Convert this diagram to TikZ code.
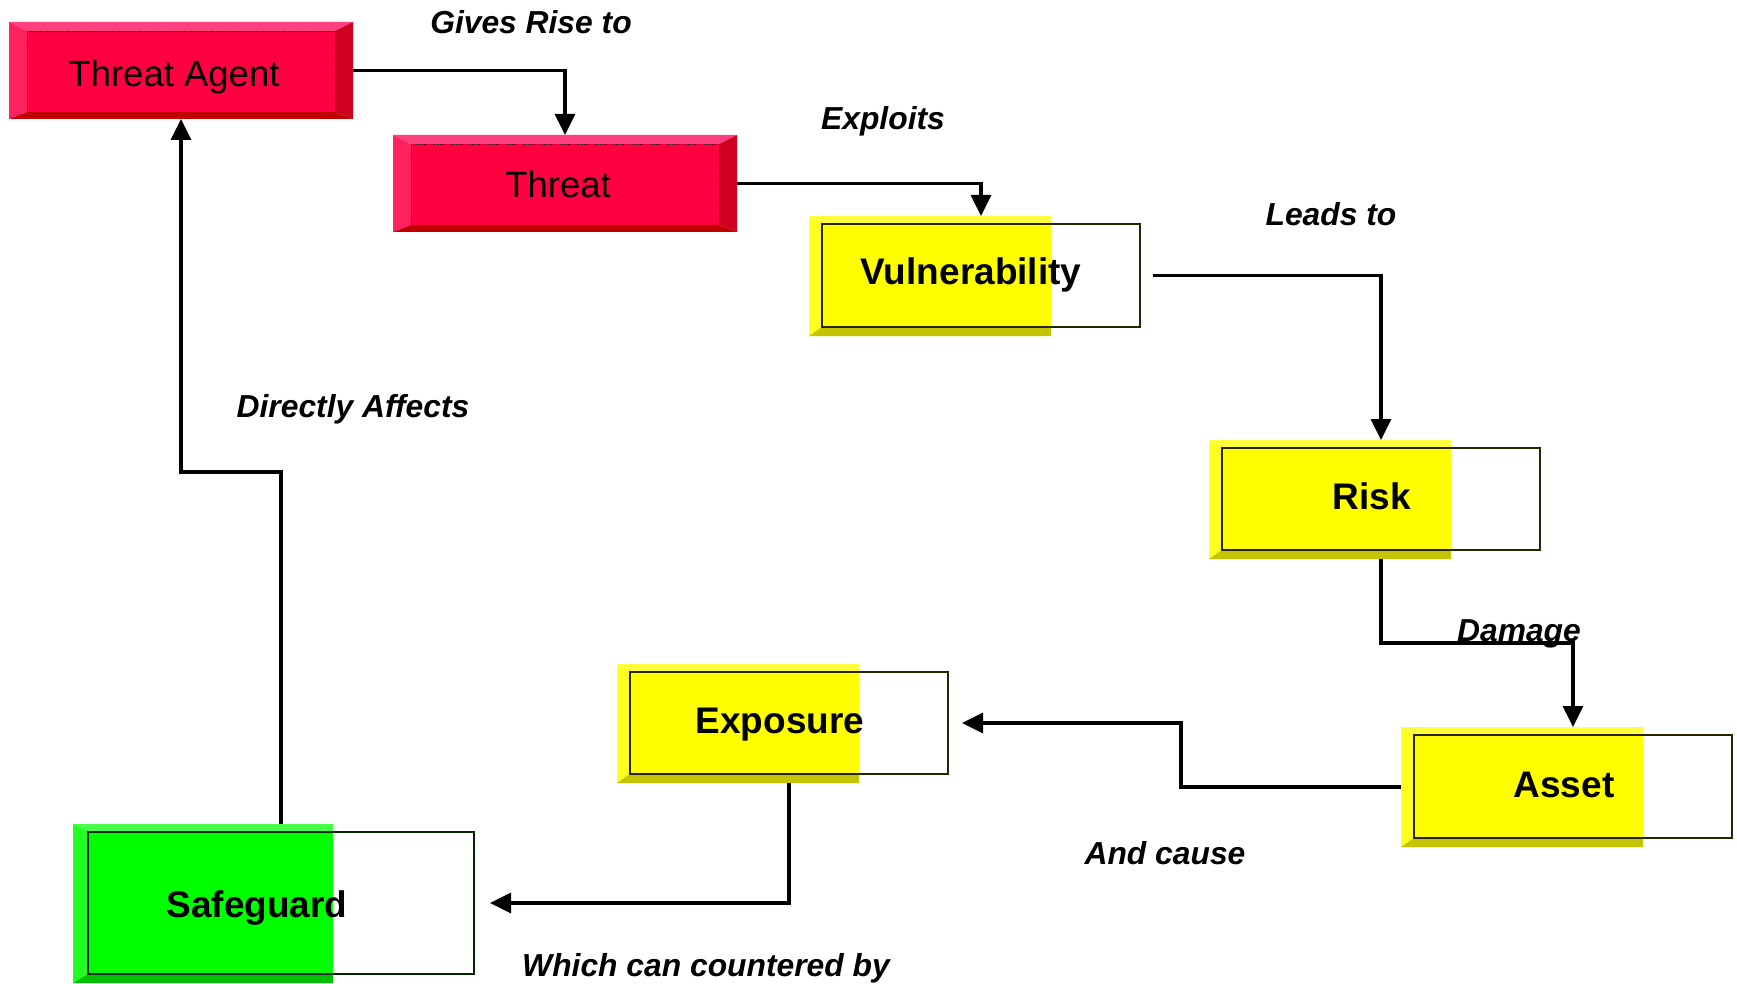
\documentclass[tikz,border=0pt]{standalone}
\usepackage{fontspec}
\setmainfont{Liberation Sans}
\usetikzlibrary{arrows.meta,calc}

% bevelled box colours
\definecolor{redmain}{RGB}{255,0,64}
\definecolor{redtop}{RGB}{255,64,128}
\definecolor{redleft}{RGB}{255,32,96}
\definecolor{redright}{RGB}{208,0,32}
\definecolor{redbottom}{RGB}{192,0,0}
\definecolor{redline}{RGB}{80,0,20}
\definecolor{ylwmain}{RGB}{255,255,0}
\definecolor{ylwtop}{RGB}{255,255,64}
\definecolor{ylwleft}{RGB}{255,255,32}
\definecolor{ylwbottom}{RGB}{196,196,0}
\definecolor{ylwline}{RGB}{40,36,0}
\definecolor{grnmain}{RGB}{0,255,0}
\definecolor{grntop}{RGB}{72,255,72}
\definecolor{grnleft}{RGB}{32,255,32}
\definecolor{grnbottom}{RGB}{0,192,0}
\definecolor{grnline}{RGB}{0,40,0}

\tikzset{
  fillbox/.style={rectangle, inner sep=0pt, outer sep=0pt, draw=none},
  outlinebox/.style={rectangle, inner sep=0pt, outer sep=0pt, line width=1.8pt},
  boxlabel/.style={anchor=base, inner sep=0pt, font=\fontsize{37}{40}\selectfont\bfseries},
  redlabel/.style={anchor=base, inner sep=0pt, font=\fontsize{36.5}{40}\selectfont},
  edgelabel/.style={anchor=base, inner sep=0pt, font=\fontsize{31.8}{34}\selectfont\bfseries\itshape},
  arr/.style={line width=3.1pt, -{Triangle[length=21pt,width=20pt]}},
}

% red box with bevels on all four sides: name, x1, y1, x2, y2
\newcommand\redbox[5]{%
  \fill[redtop] (#2,#3) -- (#4,#3) -- ({#4-18},{#3+9}) -- ({#2+18},{#3+9}) -- cycle;
  \fill[redleft] (#2,#3) -- ({#2+18},{#3+9}) -- ({#2+18},{#5-7}) -- (#2,#5) -- cycle;
  \fill[redright] (#4,#3) -- (#4,#5) -- ({#4-18},{#5-7}) -- ({#4-18},{#3+9}) -- cycle;
  \fill[redbottom] (#2,#5) -- ({#2+18},{#5-7}) -- ({#4-18},{#5-7}) -- (#4,#5) -- cycle;
  \fill[redmain] ({#2+18},{#3+9}) rectangle ({#4-18},{#5-7});
  \draw[redline, line width=0.8pt, densely dotted] ({#2+18},{#5-7}) -- ({#2+18},{#3+9}) -- ({#4-18},{#3+9}) -- ({#4-18},{#5-7});
  \node[fillbox, minimum width={#4-#2}, minimum height={#5-#3}] (#1) at ({(#2+#4)/2},{(#3+#5)/2}) {};
}

% box with left/top/bottom bevels and a wider outline frame:
% fill name, outline name, x1, y1, x2, y2, outline right x, colour prefix, left bevel
\newcommand\openbox[9]{%
  \fill[#8top] (#3,#4) -- (#5,#4) -- (#5,{#4+8}) -- ({#3+#9},{#4+8}) -- cycle;
  \fill[#8left] (#3,#4) -- ({#3+#9},{#4+8}) -- ({#3+#9},{#6-9}) -- (#3,#6) -- cycle;
  \fill[#8bottom] (#3,#6) -- ({#3+#9},{#6-9}) -- (#5,{#6-9}) -- (#5,#6) -- cycle;
  \fill[#8main] ({#3+#9},{#4+8}) rectangle (#5,{#6-9});
  \node[fillbox, minimum width={#5-#3}, minimum height={#6-#4}] (#1) at ({(#3+#5)/2},{(#4+#6)/2}) {};
  \node[outlinebox, draw=#8line, minimum width={#7-#3-#9}, minimum height={#6-#4-17}]
    (#2) at ({(#3+#9+#7)/2},{(#4+8+#6-9)/2}) {};
}

\begin{document}
\begin{tikzpicture}[x=1pt, y=-1pt]
\useasboundingbox (0,0) rectangle (1737,984);

% boxes
\redbox{ta}{9}{22}{353}{119}
\redbox{thr}{393}{135}{737}{232}
\openbox{vulf}{vul}{809}{216}{1051}{336}{1140}{ylw}{13}
\openbox{riskf}{risk}{1209}{440}{1451}{559}{1540}{ylw}{13}
\openbox{expf}{exp}{617}{664}{859}{783}{948}{ylw}{13}
\openbox{assetf}{asset}{1401}{727}{1643}{847}{1732}{ylw}{13}
\openbox{sgf}{sg}{73}{824}{333}{983}{474}{grn}{15}

% box texts
\node[redlabel] (tat) at (174,87) {Threat Agent};
\node[redlabel] (thrt) at (558,198) {Threat};
\node[boxlabel] (vult) at (971,285) {Vulnerability};
\node[boxlabel] (riskt) at (1372,509) {Risk};
\node[boxlabel] (expt) at (780,733) {Exposure};
\node[boxlabel] (assett) at (1564,797) {Asset};
\node[boxlabel] (sgt) at (257,917) {Safeguard};

% connector texts
\node[edgelabel] (l1) at (531,34) {Gives Rise to};
\node[edgelabel] (l2) at (883,130) {Exploits};
\node[edgelabel] (l3) at (1331,226) {Leads to};
\node[edgelabel] (l4) at (1519,641) {Damage};
\node[edgelabel] (l5) at (1165,864) {And cause};
\node[edgelabel] (l6) at (706,976) {Which can countered by};
\node[edgelabel] (l7) at (353,417) {Directly Affects};

% connectors
\draw[arr] (ta.east) -| (thr.north);
\draw[arr] (thr.east) -| (vul.north |- vulf.north);
\draw[arr] ([xshift=13pt]vul.east) -| (risk.north |- riskf.north);
\draw[arr] (risk.south |- riskf.south) -- ++(0,84) -| (asset.north |- assetf.north);
\draw[arr] (assetf.west) -- ++(-220,0) |- ([xshift=14pt]exp.east);
\draw[arr] (exp.south |- expf.south) |- ([xshift=16pt]sg.east);
\draw[arr] (sg.north |- sgf.north) -- ++(0,-352) -| (ta.south);
\end{tikzpicture}
\end{document}
